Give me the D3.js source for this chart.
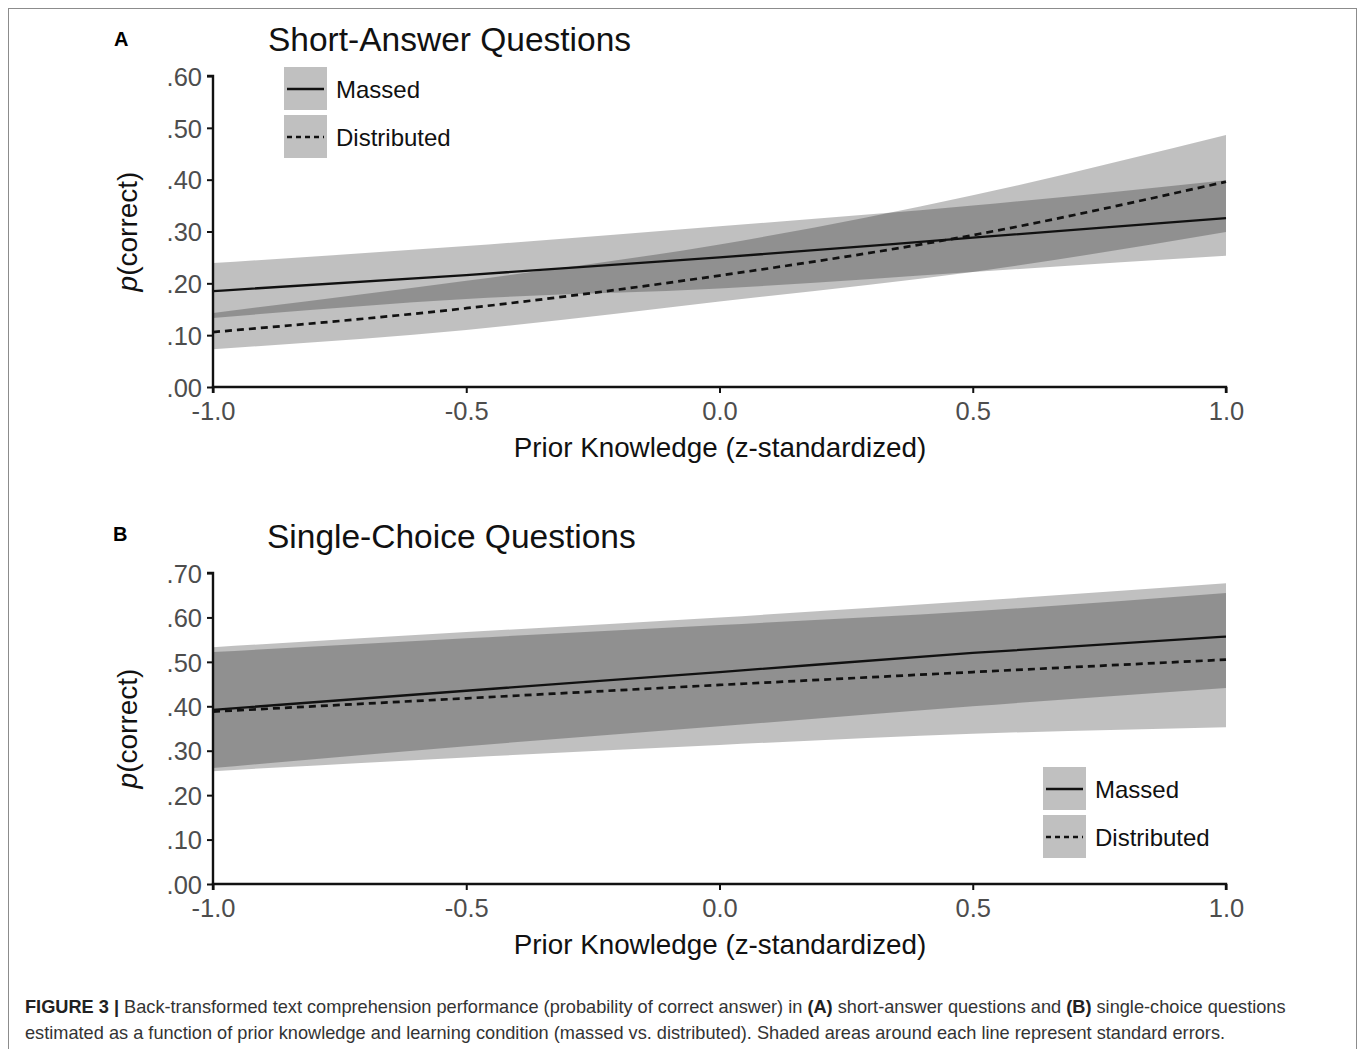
<!DOCTYPE html>
<html>
<head>
<meta charset="utf-8">
<script src="https://cdn.jsdelivr.net/npm/d3@7"></script>
<style>
  body { margin: 0; background: #fff; }
  svg text { font-family: "Liberation Sans", Arial, sans-serif; }
</style>
</head>
<body>
<svg id="fig" width="1357" height="1049"></svg>
<script>
// prior knowledge positions
var xs = [-1, -0.5, 0, 0.5, 1];

// panel A: short-answer
var aMassedFit = [0.185, 0.216, 0.250, 0.288, 0.326];
var aMassedLo  = [0.133, 0.170, 0.190, 0.222, 0.253];
var aMassedHi  = [0.239, 0.272, 0.310, 0.350, 0.399];
var aDistFit   = [0.106, 0.152, 0.215, 0.293, 0.396];
var aDistLo    = [0.073, 0.110, 0.165, 0.222, 0.299];
var aDistHi    = [0.143, 0.205, 0.275, 0.370, 0.486];

// panel B: single-choice
var bMassedFit = [0.392, 0.435, 0.477, 0.520, 0.557];
var bMassedLo  = [0.261, 0.310, 0.355, 0.400, 0.441];
var bMassedHi  = [0.533, 0.567, 0.600, 0.637, 0.677];
var bDistFit   = [0.388, 0.418, 0.448, 0.477, 0.505];
var bDistLo    = [0.254, 0.285, 0.313, 0.338, 0.353];
var bDistHi    = [0.522, 0.553, 0.583, 0.614, 0.655];

var xTicks = [-1, -0.5, 0, 0.5, 1];
var aYTicks = [0, 0.1, 0.2, 0.3, 0.4, 0.5, 0.6];
var bYTicks = [0, 0.1, 0.2, 0.3, 0.4, 0.5, 0.6, 0.7];
var legendLabels = ["Massed", "Distributed"];

var svg = d3.select("#fig");

// outer frame
svg.append("rect")
	.attr("x", 8.5).attr("y", 8.5)
	.attr("width", 1348).attr("height", 1060)
	.attr("fill", "none")
	.attr("stroke", "#8c8c8c")
	.attr("stroke-width", 1);

var fmtY = function(d){ return d3.format(".2f")(d).replace(/^0/, ""); };
// plain hyphen, not the unicode minus
var fmtX = function(d){ return d.toFixed(1); };

var drawPanel = function(opt){
	var g = svg.append("g");
	var x = d3.scaleLinear().domain([-1, 1]).range([213, 1226]);
	var y = d3.scaleLinear().domain([0, opt.yMax]).range([opt.bottom, opt.top]);

	// panel letter + title
	g.append("text")
		.attr("x", opt.letterX).attr("y", opt.letterY)
		.attr("font-size", 20).attr("font-weight", "bold")
		.text(opt.letter);
	g.append("text")
		.attr("x", opt.titleX).attr("y", opt.titleY)
		.attr("font-size", 33.5)
		.attr("fill", "#111")
		.text(opt.title);

	// SE ribbons
	var series = [
		{ fit: opt.massedFit, lo: opt.massedLo, hi: opt.massedHi, dash: null },
		{ fit: opt.distFit, lo: opt.distLo, hi: opt.distHi, dash: "7,5" }
	];
	var area = d3.area()
		.x(function(d){ return x(d.x); })
		.y0(function(d){ return y(d.lo); })
		.y1(function(d){ return y(d.hi); })
		.curve(d3.curveMonotoneX);
	var line = d3.line()
		.x(function(d){ return x(d.x); })
		.y(function(d){ return y(d.v); })
		.curve(d3.curveMonotoneX);

	series.forEach(function(s){
		var pts = xs.map(function(v, i){ return { x: v, lo: s.lo[i], hi: s.hi[i] }; });
		g.append("path")
			.attr("d", area(pts))
			.attr("fill", "#000")
			.attr("fill-opacity", 0.247);
	});
	series.forEach(function(s){
		var pts = xs.map(function(v, i){ return { x: v, v: s.fit[i] }; });
		g.append("path")
			.attr("d", line(pts))
			.attr("fill", "none")
			.attr("stroke", "#111")
			.attr("stroke-width", s.dash ? 2.7 : 2.3)
			.attr("stroke-dasharray", s.dash);
	});

	// axes
	var yAxis = d3.axisLeft(y).tickValues(opt.yTicks).tickFormat(fmtY).tickSize(6).tickPadding(5);
	var ya = g.append("g").attr("transform", "translate(213,0)").call(yAxis);
	var xAxis = d3.axisBottom(x).tickValues(xTicks).tickFormat(fmtX).tickSize(6).tickPadding(9);
	var xa = g.append("g").attr("transform", "translate(0," + opt.bottom + ")").call(xAxis);
	[ya, xa].forEach(function(a){
		a.select(".domain").attr("stroke", "#111").attr("stroke-width", 2.4);
		a.selectAll(".tick line").attr("stroke", "#111").attr("stroke-width", 2);
		a.selectAll(".tick text")
			.attr("font-size", 25.5)
			.attr("fill", "#4d4d4d")
			.style("font-family", "Liberation Sans, Arial, sans-serif");
	});
	ya.select(".domain").attr("d", "M-6," + opt.top + "H0V" + opt.bottom);
	xa.select(".domain").attr("d", "M213,6V0H1226V6");
	ya.selectAll(".tick text").attr("dy", "0.36em");

	// axis titles
	g.append("text")
		.attr("x", 720).attr("y", opt.bottom + 70)
		.attr("text-anchor", "middle")
		.attr("font-size", 27.8)
		.attr("fill", "#111")
		.text("Prior Knowledge (z-standardized)");
	var yt = g.append("text")
		.attr("transform", "translate(137," + ((opt.top + opt.bottom) / 2) + ") rotate(-90)")
		.attr("text-anchor", "middle")
		.attr("font-size", 28)
		.attr("fill", "#111");
	yt.append("tspan").attr("font-style", "italic").text("p");
	yt.append("tspan").text("(correct)");

	// legend
	legendLabels.forEach(function(lab, i){
		var ky = opt.legY + i * 48;
		g.append("rect")
			.attr("x", opt.legX).attr("y", ky)
			.attr("width", 43).attr("height", 43)
			.attr("fill", "#000").attr("fill-opacity", 0.247);
		g.append("line")
			.attr("x1", opt.legX + 3).attr("x2", opt.legX + 40)
			.attr("y1", ky + 22).attr("y2", ky + 22)
			.attr("stroke", "#111")
			.attr("stroke-width", i ? 2.7 : 2.3)
			.attr("stroke-dasharray", i ? "5,4" : null);
		g.append("text")
			.attr("x", opt.legX + 52).attr("y", ky + 31)
			.attr("font-size", 24)
			.attr("fill", "#111")
			.text(lab);
	});
};

drawPanel({
	letter: "A", letterX: 114, letterY: 46,
	title: "Short-Answer Questions", titleX: 268, titleY: 51,
	top: 76, bottom: 387, yMax: 0.6, yTicks: aYTicks,
	massedFit: aMassedFit, massedLo: aMassedLo, massedHi: aMassedHi,
	distFit: aDistFit, distLo: aDistLo, distHi: aDistHi,
	legX: 284, legY: 67
});

drawPanel({
	letter: "B", letterX: 113, letterY: 541,
	title: "Single-Choice Questions", titleX: 267, titleY: 548,
	top: 573, bottom: 884, yMax: 0.7, yTicks: bYTicks,
	massedFit: bMassedFit, massedLo: bMassedLo, massedHi: bMassedHi,
	distFit: bDistFit, distLo: bDistLo, distHi: bDistHi,
	legX: 1043, legY: 767
});

// caption
var cap = svg.append("g")
	.style("font-family", "'Liberation Sans Narrow', 'Arial Narrow', sans-serif")
	.attr("font-size", 18.2)
	.attr("fill", "#333");
var c1 = cap.append("text").attr("x", 25).attr("y", 1013);
c1.append("tspan").attr("font-weight", "bold").attr("fill", "#222").text("FIGURE 3 | ");
c1.append("tspan").text("Back-transformed text comprehension performance (probability of correct answer) in ");
c1.append("tspan").attr("font-weight", "bold").attr("fill", "#222").text("(A)");
c1.append("tspan").text(" short-answer questions and ");
c1.append("tspan").attr("font-weight", "bold").attr("fill", "#222").text("(B)");
c1.append("tspan").text(" single-choice questions");
cap.append("text").attr("x", 25).attr("y", 1039)
	.text("estimated as a function of prior knowledge and learning condition (massed vs. distributed). Shaded areas around each line represent standard errors.");
</script>
</body>
</html>
